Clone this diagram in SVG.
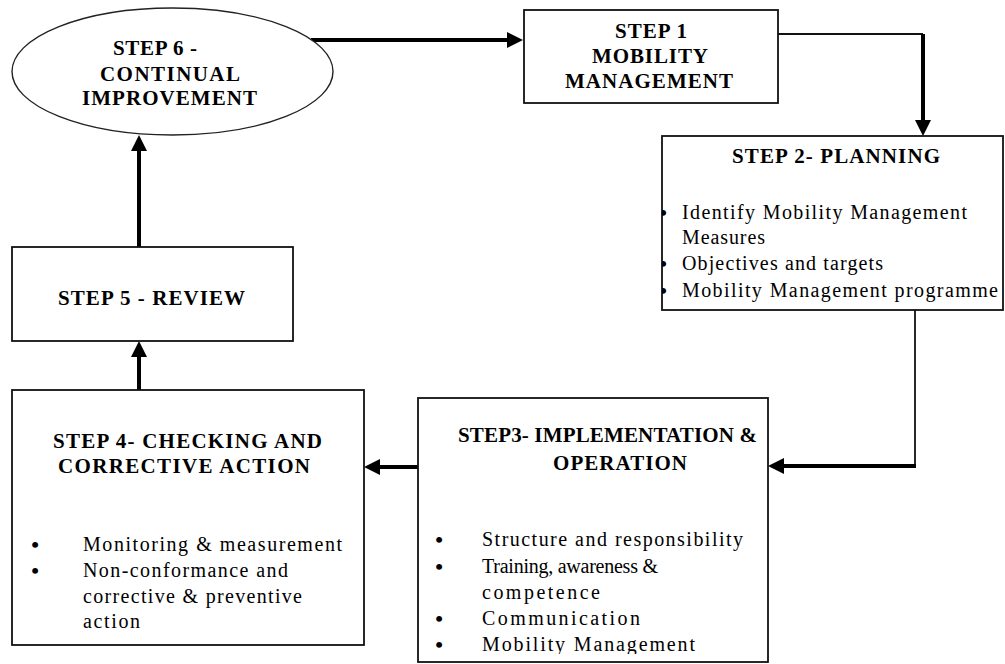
<svg xmlns="http://www.w3.org/2000/svg" width="1005" height="664" viewBox="0 0 1005 664">
  <style>
    .box { fill: #fff; stroke: #111; stroke-width: 1.8; }
    .oval { fill: #fff; stroke: #222; stroke-width: 1.4; }
    .title { font-family: "Liberation Serif", "Times New Roman", serif; font-weight: bold; font-size: 21px; fill: #000; }
    .item { font-family: "Liberation Serif", "Times New Roman", serif; font-size: 20px; fill: #000; }
    .bullet { font-family: "Liberation Serif", "Times New Roman", serif; font-size: 22px; font-weight: bold; fill: #000; text-anchor: middle; }
    .thin { fill: none; stroke: #111; stroke-width: 1.8; }
    .thick { fill: none; stroke: #000; stroke-width: 4; }
  </style>
  <defs>
    <marker id="arrow" markerUnits="userSpaceOnUse" markerWidth="16" markerHeight="16" viewBox="0 0 16 16" refX="8" refY="8" orient="auto">
      <path d="M0,0 L16,8 L0,16 Z" fill="#000"/>
    </marker>
    <clipPath id="clipPlan"><rect x="662" y="136" width="341" height="166"/></clipPath>
    <clipPath id="clipImpl"><rect x="418" y="398" width="350" height="256"/></clipPath>
  </defs>

  <rect width="1005" height="664" fill="#fff"/>

  <!-- connectors -->
  <g id="connectors">
    <path class="thick" d="M311,40 L515,40" marker-end="url(#arrow)"/>
    <path class="thin" d="M778,34 L923,34"/>
    <path class="thick" d="M923,34 L923,128" marker-end="url(#arrow)"/>
    <path class="thin" d="M915,310 L915,466"/>
    <path class="thick" d="M916,466 L776,466" marker-end="url(#arrow)"/>
    <path class="thick" d="M418,467 L372,467" marker-end="url(#arrow)"/>
    <path class="thick" d="M139,390 L139,349" marker-end="url(#arrow)"/>
    <path class="thick" d="M139,247 L139,143" marker-end="url(#arrow)"/>
  </g>

  <!-- step 6: continual improvement -->
  <g id="step6">
    <ellipse class="oval" cx="172.5" cy="71.5" rx="160.5" ry="63.5"/>
    <text class="title" x="113" y="55" textLength="84">STEP 6 -</text>
    <text class="title" x="100" y="81" textLength="140">CONTINUAL</text>
    <text class="title" x="82" y="105" textLength="175">IMPROVEMENT</text>
  </g>

  <!-- step 1 -->
  <g id="step1">
    <rect class="box" x="524" y="10" width="254" height="93"/>
    <text class="title" x="615" y="38" textLength="72">STEP 1</text>
    <text class="title" x="592" y="63" textLength="116">MOBILITY</text>
    <text class="title" x="565" y="88" textLength="168">MANAGEMENT</text>
  </g>

  <!-- step 2 -->
  <g id="step2">
    <rect class="box" x="662" y="136" width="341" height="174"/>
    <text class="title" x="732" y="163" textLength="208">STEP 2- PLANNING</text>
    <g clip-path="url(#clipPlan)">
      <text class="bullet" x="663" y="220">•</text>
      <text class="bullet" x="663" y="271">•</text>
      <text class="bullet" x="663" y="298">•</text>
      <text class="item" x="682" y="219" textLength="285">Identify Mobility Management</text>
      <text class="item" x="682" y="244" textLength="83">Measures</text>
      <text class="item" x="682" y="270" textLength="201">Objectives and targets</text>
      <text class="item" x="682" y="297" textLength="316">Mobility Management programme</text>
    </g>
  </g>

  <!-- step 3 -->
  <g id="step3">
    <rect class="box" x="418" y="398" width="350" height="264"/>
    <text class="title" x="458" y="442" textLength="299">STEP3- IMPLEMENTATION &amp;</text>
    <text class="title" x="553" y="470" textLength="134">OPERATION</text>
    <g clip-path="url(#clipImpl)">
      <text class="bullet" x="439" y="547">•</text>
      <text class="bullet" x="439" y="574">•</text>
      <text class="bullet" x="439" y="626">•</text>
      <text class="bullet" x="439" y="652">•</text>
      <text class="item" x="482" y="546" textLength="261">Structure and responsibility</text>
      <text class="item" x="482" y="573" textLength="176">Training, awareness &amp;</text>
      <text class="item" x="482" y="599" textLength="118">competence</text>
      <text class="item" x="482" y="625" textLength="158">Communication</text>
      <text class="item" x="482" y="651" textLength="213">Mobility Management</text>
    </g>
  </g>

  <!-- step 4 -->
  <g id="step4">
    <rect class="box" x="12" y="390" width="352" height="255"/>
    <text class="title" x="53" y="448" textLength="269">STEP 4- CHECKING AND</text>
    <text class="title" x="58" y="473" textLength="252">CORRECTIVE ACTION</text>
    <text class="bullet" x="35" y="552">•</text>
    <text class="bullet" x="35" y="578">•</text>
    <text class="item" x="83" y="551" textLength="259">Monitoring &amp; measurement</text>
    <text class="item" x="83" y="577" textLength="205">Non-conformance and</text>
    <text class="item" x="83" y="603" textLength="219">corrective &amp; preventive</text>
    <text class="item" x="83" y="628" textLength="57">action</text>
  </g>

  <!-- step 5 -->
  <g id="step5">
    <rect class="box" x="12" y="247" width="281" height="94"/>
    <text class="title" x="58" y="305" textLength="187">STEP 5 - REVIEW</text>
  </g>
</svg>
